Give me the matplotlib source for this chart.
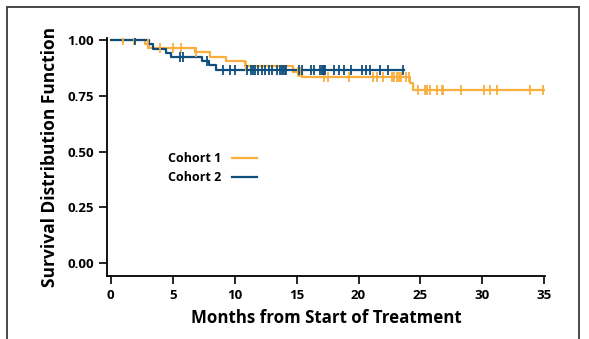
import numpy as np
import matplotlib
matplotlib.use("Agg")
import matplotlib.pyplot as plt
from matplotlib.lines import Line2D
from matplotlib.patches import Rectangle

# Cohort 1 (orange): event times, survival after each event, censored times
events_1 = [2.75, 3.1, 6.8, 8.0, 9.3, 10.8, 14.7, 15.4, 24.15, 24.4]
surv_1 = [0.983, 0.964, 0.945, 0.925, 0.905, 0.883, 0.858, 0.835, 0.808, 0.775]
censor_1 = [1.0, 1.85, 3.0, 4.0, 5.0, 5.7, 6.9, 10.95, 15.1, 15.3, 17.2, 17.5,
            19.2, 21.2, 21.5, 22.0, 22.7, 22.9, 23.1, 23.3, 23.4, 23.8, 24.1,
            24.8, 25.4, 25.55, 25.8, 26.3, 26.7, 26.85, 28.3, 30.1, 30.6, 31.2,
            33.8, 34.9]
end_1 = 35.0

# Cohort 2 (blue)
events_2 = [3.05, 3.45, 4.45, 4.85, 7.4, 7.9, 8.5]
surv_2 = [0.981, 0.962, 0.943, 0.925, 0.906, 0.887, 0.868]
censor_2 = [1.95, 5.6, 5.8, 7.75, 9.1, 9.65, 10.0, 11.0, 11.3, 11.45, 11.65,
            11.9, 12.2, 12.45, 12.8, 13.05, 13.4, 13.65, 13.8, 13.9, 14.05,
            14.15, 15.2, 15.4, 16.15, 16.4, 16.9, 17.05, 17.15, 17.25, 17.3,
            18.0, 18.45, 18.8, 19.4, 20.25, 20.6, 20.9, 21.7, 22.4, 23.6]
end_2 = 23.7

labels = ["Cohort 1", "Cohort 2"]
colors = ["#F9AE3E", "#0F4F7E"]
xticks = [0, 5, 10, 15, 20, 25, 30, 35]
yticks = [0.0, 0.25, 0.5, 0.75, 1.0]

FONT = "Open Sans"


def km(ax, events, surv, censor, end, color):
    t = np.concatenate([[0], events, [end]])
    s = np.concatenate([[1.0], surv, [surv[-1]]])
    ax.step(t, s, where="post", color=color, lw=1.6, zorder=2)
    idx = np.searchsorted(events, censor, side="right")
    sc = np.concatenate([[1.0], surv])[idx]
    ax.plot(censor, sc, ls="none", marker="|", ms=7, mew=1.3, color=color, zorder=3)


fig = plt.figure(figsize=(5.89, 3.39), dpi=100)
ax = fig.add_axes([107 / 589, 1 - 276 / 339, (545 - 107) / 589, (276 - 38) / 339])

km(ax, events_1, surv_1, censor_1, end_1, colors[0])
km(ax, events_2, surv_2, censor_2, end_2, colors[1])

ax.set_xlim(-0.3, 35.05)
ax.set_ylim(-0.058, 1.01)
ax.set_xticks(xticks)
ax.set_yticks(yticks)
ax.set_yticklabels(["%.2f" % v for v in yticks])
for sp in ["top", "right"]:
    ax.spines[sp].set_visible(False)
for sp in ["left", "bottom"]:
    ax.spines[sp].set_linewidth(1.3)
ax.tick_params(direction="out", length=6, width=1.2, labelsize=9.5, pad=3.5)
for lab in ax.get_xticklabels() + ax.get_yticklabels():
    lab.set_fontfamily(FONT)
    lab.set_fontweight("bold")

ax.set_xlabel("Months from Start of Treatment", fontsize=12.2, fontweight="bold",
              fontfamily=FONT, labelpad=5)
ax.set_ylabel("Survival Distribution Function", fontsize=12.5, fontweight="bold",
              fontfamily=FONT, labelpad=6)

handles = [Line2D([], [], color=c, lw=1.6) for c in colors]
ax.legend(handles, labels, loc="upper left", bbox_to_anchor=(157 / 589, 1 - 141 / 339),
          bbox_transform=fig.transFigure, frameon=False, markerfirst=False,
          handlelength=2.0, handletextpad=0.8, labelspacing=0.45,
          prop={"family": FONT, "weight": "bold", "size": 9})

fig.add_artist(Rectangle((7 / 589, -0.05), (579 - 7) / 589, 1.05 - 7 / 339,
                         transform=fig.transFigure, fill=False,
                         edgecolor="#3a3a3a", lw=1.3))

fig.savefig("out.png", dpi=100)
